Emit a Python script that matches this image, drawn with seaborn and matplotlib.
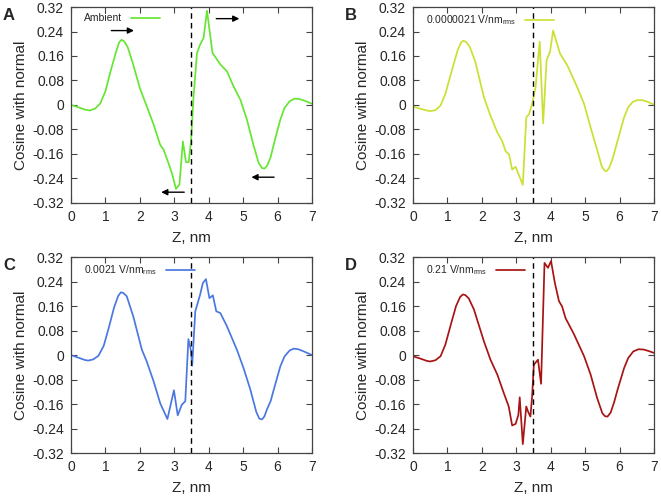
import numpy as np
import pandas as pd
import matplotlib
matplotlib.use("Agg")
import matplotlib.pyplot as plt
import seaborn as sns

# panel A - ambient
z_a = [0, 0.2, 0.4, 0.55, 0.7, 0.85, 1.0, 1.15, 1.3, 1.4, 1.47, 1.55, 1.65, 1.8, 2.0, 2.2,
       2.4, 2.59, 2.69, 2.83, 2.93, 3.05, 3.15, 3.25, 3.34, 3.42, 3.49, 3.56, 3.66, 3.75,
       3.85, 3.95, 4.11, 4.34, 4.53, 4.72, 4.92, 5.11, 5.31, 5.45, 5.55, 5.62, 5.7, 5.8,
       5.9, 6.08, 6.2, 6.35, 6.5, 6.65, 6.8, 7.0]
cos_a = [0, -0.007, -0.015, -0.018, -0.012, 0.005, 0.045, 0.11, 0.17, 0.205, 0.213, 0.207,
         0.188, 0.135, 0.055, -0.004, -0.064, -0.13, -0.146, -0.19, -0.222, -0.274, -0.26,
         -0.119, -0.187, -0.187, -0.113, 0.028, 0.17, 0.197, 0.219, 0.308, 0.170, 0.132,
         0.110, 0.061, 0.017, -0.048, -0.135, -0.189, -0.206, -0.208, -0.198, -0.17, -0.124,
         -0.048, -0.01, 0.012, 0.021, 0.019, 0.013, 0.004]

# panel B - 0.0000021 V/nm
z_b = [0, 0.2, 0.4, 0.5, 0.65, 0.8, 0.94, 1.13, 1.3, 1.4, 1.47, 1.55, 1.65, 1.81, 2.06,
       2.25, 2.45, 2.59, 2.69, 2.79, 2.88, 2.98, 3.19, 3.29, 3.37, 3.46, 3.56, 3.68, 3.78,
       3.88, 3.98, 4.07, 4.27, 4.48, 4.77, 4.97, 5.16, 5.36, 5.48, 5.56, 5.62, 5.7, 5.8,
       5.94, 6.13, 6.25, 6.38, 6.52, 6.65, 6.8, 7.0]
cos_b = [-0.005, -0.012, -0.018, -0.02, -0.017, -0.002, 0.036, 0.113, 0.18, 0.205, 0.21,
         0.205, 0.19, 0.141, 0.025, -0.035, -0.09, -0.118, -0.151, -0.162, -0.211, -0.202,
         -0.261, -0.041, -0.030, 0.003, 0.058, 0.207, -0.06, 0.146, 0.174, 0.243, 0.168,
         0.13, 0.058, 0.003, -0.074, -0.151, -0.2, -0.214, -0.217, -0.205, -0.175, -0.118,
         -0.041, -0.008, 0.01, 0.016, 0.016, 0.011, 0.001]

# panel C - 0.0021 V/nm
z_c = [0, 0.2, 0.4, 0.5, 0.65, 0.8, 0.95, 1.1, 1.25, 1.37, 1.45, 1.52, 1.62, 1.81, 2.06,
       2.2, 2.4, 2.59, 2.80, 2.99, 3.10, 3.22, 3.32, 3.41, 3.48, 3.52, 3.61, 3.75, 3.83,
       3.92, 4.02, 4.12, 4.22, 4.34, 4.53, 4.82, 5.01, 5.21, 5.38, 5.47, 5.55, 5.62, 5.69,
       5.8, 5.89, 6.08, 6.2, 6.35, 6.47, 6.6, 6.76, 7.0]
cos_c = [0, -0.008, -0.016, -0.018, -0.014, -0.002, 0.03, 0.09, 0.155, 0.193, 0.205, 0.203,
         0.192, 0.126, 0.017, -0.021, -0.086, -0.157, -0.209, -0.115, -0.197, -0.162,
         -0.151, 0.052, 0.017, -0.035, 0.143, 0.197, 0.235, 0.248, 0.186, 0.195, 0.143,
         0.137, 0.094, 0.017, -0.042, -0.113, -0.185, -0.208, -0.21, -0.2, -0.178, -0.15,
         -0.113, -0.037, -0.005, 0.015, 0.021, 0.019, 0.012, 0.0]

# panel D - 0.21 V/nm
z_d = [0, 0.2, 0.4, 0.5, 0.65, 0.8, 0.94, 1.1, 1.25, 1.37, 1.45, 1.52, 1.62, 1.77, 2.06,
       2.25, 2.45, 2.64, 2.78, 2.88, 2.98, 3.06, 3.10, 3.19, 3.29, 3.35, 3.41, 3.46, 3.51,
       3.63, 3.72, 3.82, 3.92, 4.01, 4.12, 4.24, 4.33, 4.43, 4.68, 4.97, 5.16, 5.35, 5.50,
       5.58, 5.65, 5.74, 5.84, 5.94, 6.13, 6.25, 6.4, 6.55, 6.7, 6.85, 7.0]
cos_d = [-0.004, -0.011, -0.019, -0.021, -0.017, -0.004, 0.034, 0.1, 0.16, 0.19, 0.198,
         0.196, 0.185, 0.149, 0.045, -0.015, -0.064, -0.125, -0.168, -0.23, -0.225, -0.196,
         -0.138, -0.291, -0.168, -0.187, -0.201, -0.135, -0.032, -0.015, -0.094, 0.301,
         0.285, 0.307, 0.236, 0.176, 0.159, 0.121, 0.067, -0.004, -0.064, -0.141, -0.19,
         -0.2, -0.201, -0.188, -0.155, -0.114, -0.043, -0.01, 0.012, 0.019, 0.018, 0.013,
         0.007]

panels = [
    ("A", z_a, cos_a, "Ambient", "#66e633"),
    ("B", z_b, cos_b, "0.0000021 V/nm$_{\\mathregular{rms}}$", "#cce033"),
    ("C", z_c, cos_c, "0.0021 V/nm$_{\\mathregular{rms}}$", "#4a78e0"),
    ("D", z_d, cos_d, "0.21 V/nm$_{\\mathregular{rms}}$", "#a81414"),
]

sns.set_style("ticks")
plt.rcParams['font.family'] = ['Liberation Sans', 'DejaVu Sans']
plt.rcParams['mathtext.fontset'] = 'custom'
plt.rcParams['mathtext.rm'] = 'Liberation Sans'

fig = plt.figure(figsize=(6.61, 5.01), dpi=100)
boxes = [(0.1074, 0.595), (0.6248, 0.595), (0.1074, 0.0958), (0.6248, 0.0958)]
w, h = 0.3646, 0.391
yticks = np.arange(-0.32, 0.33, 0.08)

for (lab, z, c, name, col), (x0, y0) in zip(panels, boxes):
    ax = fig.add_axes([x0, y0, w, h])
    df = pd.DataFrame({"Z": z, "cos": c})
    sns.lineplot(data=df, x="Z", y="cos", color=col, lw=1.25, ax=ax, label=name,
                 sort=False, estimator=None)
    ax.axvline(3.5, color="black", ls=(0, (4, 3)), lw=1)
    ax.set_xlim(0, 7)
    ax.set_ylim(-0.32, 0.32)
    ax.set_xticks(range(8))
    ax.set_yticks(yticks)
    ax.set_yticklabels(["-0.32", "-0.24", "-0.16", "-0.08", "0", "0.08", "0.16", "0.24", "0.32"])
    ax.tick_params(direction="in", top=True, right=True, length=4, width=0.8,
                   labelsize=10, pad=5, color="#444444")
    for s in ax.spines.values():
        s.set_linewidth(0.9)
        s.set_color("#444444")
    ax.set_xlabel("Z, nm", fontsize=11, labelpad=5)
    ax.set_ylabel("Cosine with normal", fontsize=11, labelpad=3)
    leg = ax.legend(loc="upper left", frameon=False, fontsize=7.5, markerfirst=False,
                    handlelength=2.8, borderaxespad=0.2, bbox_to_anchor=(0.03, 1.0))
    fig.text(x0 - 0.103, y0 + h - 0.025, lab, fontsize=12, fontweight="bold")
    if lab == "A":
        arr = dict(arrowstyle="-|>", color="black", lw=1, mutation_scale=9)
        ax.annotate("", xy=(1.91, 0.243), xytext=(1.09, 0.243), arrowprops=arr)
        ax.annotate("", xy=(4.97, 0.282), xytext=(4.14, 0.282), arrowprops=arr)
        ax.annotate("", xy=(2.54, -0.285), xytext=(3.37, -0.285), arrowprops=arr)
        ax.annotate("", xy=(5.16, -0.236), xytext=(5.98, -0.236), arrowprops=arr)

fig.savefig("out.png", dpi=100)
